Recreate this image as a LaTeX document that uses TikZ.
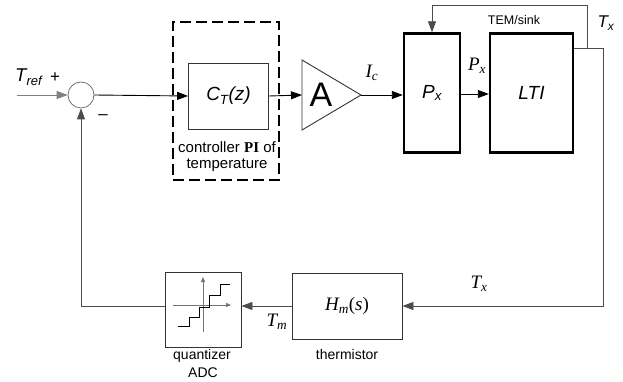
\documentclass[tikz,border=0pt]{standalone}
\usepackage{fontspec}
\setmainfont{Liberation Sans}
\newfontfamily\tms{Liberation Serif}
\usetikzlibrary{arrows.meta,calc}
\newcommand\fsz[1]{\fontsize{#1}{#1}\selectfont}
\begin{document}
\begin{tikzpicture}[x=1pt,y=-1pt,
  arr/.style={-{Triangle[length=11pt,width=8pt]}},
  smallarr/.style={-{Triangle[length=5pt,width=4pt]}},
  fb/.style={draw=black!70, line width=0.9pt},
  fw/.style={draw=black, line width=0.9pt},
  blk/.style={draw=black!80, line width=0.9pt, inner sep=0pt},
  thk/.style={draw=black, line width=2.4pt, inner sep=0pt},
  lbl/.style={inner sep=0pt}]
\useasboundingbox (0,0) rectangle (623,382);
% nodes
\node[draw=black!60, line width=0.7pt, circle, minimum size=26pt, inner sep=0pt] (sum) at (81,95) {};
\node[draw=black, line width=1.6pt, dash pattern=on 11pt off 5pt, minimum width=106pt, minimum height=158pt, inner sep=0pt] (dash) at (226,101) {};
\node[blk, minimum width=80pt, minimum height=66pt] (ct) at (228.5,96) {\fsz{19}\itshape C\textsubscript{T}(z)};
\coordinate (ampin) at (302,95);
\coordinate (ampout) at (361,95);
\draw[black!80, line width=0.9pt] (302,60) -- (ampout) -- (302,130) -- cycle;
\node[lbl] (A) at (321,95) {\fsz{34}A};
\node[thk, minimum width=56pt, minimum height=119pt] (px) at (432,93) {\fsz{19}\itshape P\textsubscript{x}};
\node[thk, minimum width=83pt, minimum height=119pt] (lti) at (531.5,93) {\fsz{19}\itshape LTI};
\node[blk, minimum width=110pt, minimum height=66pt] (hm) at (347,306) {\fsz{19}\tms\itshape H\textsubscript{m}\upshape(\itshape s\upshape)};
\node[blk, minimum width=76pt, minimum height=75pt] (qz) at (203,309.5) {};
% quantizer symbol
\coordinate (qa1) at (203,332);
\coordinate (qa2) at (203,277);
\coordinate (qb1) at (173,305);
\coordinate (qb2) at (231,305);
\draw[black!55, line width=0.8pt, smallarr] (qa1) -- (qa2);
\draw[black!55, line width=0.8pt, smallarr] (qb1) -- (qb2);
\draw[black, line width=0.9pt] (178,326) -- (189,326) -- (189,317) -- (199,317) -- (199,307) -- (209,307) -- (209,295) -- (220,295) -- (220,284) -- (230,284);
% connectors
\coordinate (in) at (17,95);
\draw[black!50, line width=0.9pt, arr] (in) -- (sum.west);
\draw[fw, arr] (sum.east) -- (ct.west);
\draw[fw, arr] (ct.east) -- (ampin);
\draw[fw, arr] (ampout) -- (ampout -| px.west);
\draw[fw, arr] (px.east |- 0,94) -- (lti.west |- 0,94);
\coordinate (br) at (587,48);
\coordinate (c1) at (603,48);
\coordinate (top) at (587,5);
\draw[fb] (lti.east |- br) -- (c1);
\draw[fb, arr] (c1) |- (hm.east);
\draw[fb, arr] (br) -- (top) -| (px.north);
\draw[fb, arr] (hm.west) -- (qz.east |- hm.west);
\draw[fb, arr] (qz.west |- hm.west) -| (sum.south);
% labels
\node[lbl, anchor=west] (tref) at (15,77) {\fsz{18.5}\itshape T\textsubscript{ref}};
\node[lbl] (plus) at (55,78) {\fsz{17}+};
\node[lbl] (minus) at (103,117) {\fsz{17}–};
\node[lbl] (ctl1) at (227,147) {\fsz{15}controller {\tms\bfseries PI} of};
\node[lbl] (ctl2) at (227,165) {\fsz{15}temperature};
\node[lbl] (ic) at (372,73) {\fsz{19}\tms\itshape I\textsubscript{c}};
\node[lbl] (pxl) at (477,66) {\fsz{19}\tms\itshape P\textsubscript{x}};
\node[lbl] (tem) at (514,20) {\fsz{12.5}TEM/sink};
\node[lbl] (txt) at (606,23) {\fsz{17}\itshape T\textsubscript{x}};
\node[lbl] (txb) at (479,284) {\fsz{19}\tms\itshape T\textsubscript{x}};
\node[lbl] (tm) at (277,322) {\fsz{19}\tms\itshape T\textsubscript{m}};
\node[lbl] (therm) at (347,354) {\fsz{14}thermistor};
\node[lbl] (qtx) at (202,356) {\fsz{14}quantizer};
\node[lbl] (adc) at (203,373) {\fsz{14}ADC};
\end{tikzpicture}
\end{document}
